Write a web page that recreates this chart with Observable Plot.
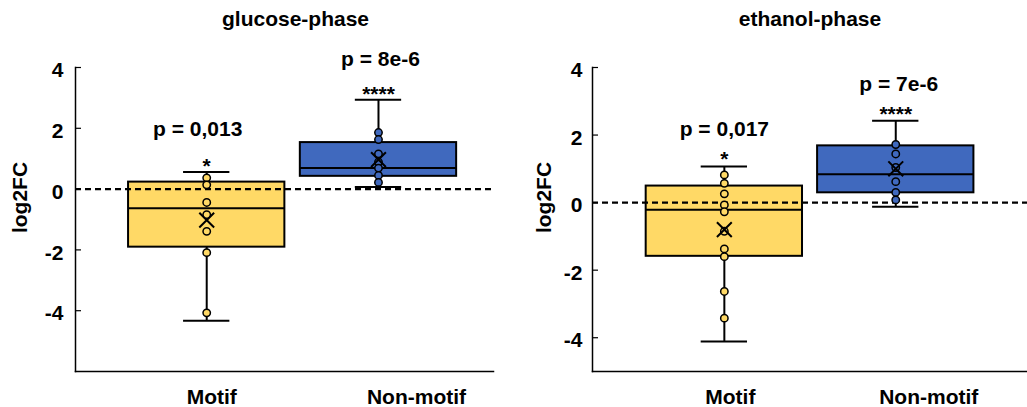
<!DOCTYPE html>
<html>
<head>
<meta charset="utf-8">
<script src="https://cdn.jsdelivr.net/npm/d3@7"></script>
<script src="https://cdn.jsdelivr.net/npm/@observablehq/plot@0.6"></script>
<style>
  html, body { margin: 0; padding: 0; background: #fff; }
  #chart { display: flex; flex-direction: row; width: 1027px; height: 407px; }
</style>
</head>
<body>
<div id="chart"></div>
<script>
// ---- data ----
const groups = ["Motif", "Non-motif"];
const titles = ["glucose-phase", "ethanol-phase"];
const yTicks = [-4, -2, 0, 2, 4];

// glucose-phase box statistics (Motif, Non-motif)
const glucoseQ1 = [-1.91, 0.42];
const glucoseMedian = [-0.63, 0.69];
const glucoseQ3 = [0.23, 1.53];
const glucoseWhiskerLow = [-4.33, 0.07];
const glucoseWhiskerHigh = [0.56, 2.94];
const glucoseMean = [-1.02, 0.97];
const glucosePointsMotif = [0.37, 0.14, -0.44, -0.84, -1.39, -2.09, -4.07];
const glucosePointsNonMotif = [1.86, 1.63, 1.16, 0.89, 0.69, 0.45, 0.22];
const glucoseP = ["p = 0,013", "p = 8e-6"];
const glucoseStars = ["*", "****"];

// ethanol-phase box statistics (Motif, Non-motif)
const ethanolQ1 = [-1.59, 0.29];
const ethanolMedian = [-0.21, 0.84];
const ethanolQ3 = [0.49, 1.68];
const ethanolWhiskerLow = [-4.11, -0.12];
const ethanolWhiskerHigh = [1.07, 2.42];
const ethanolMean = [-0.80, 1.0];
const ethanolPointsMotif = [0.82, 0.57, 0.26, -0.07, -0.27, -0.85, -1.37, -1.60, -2.63, -3.42];
const ethanolPointsNonMotif = [1.72, 1.44, 1.04, 0.62, 0.30, 0.08];
const ethanolP = ["p = 0,017", "p = 7e-6"];
const ethanolStars = ["*", "****"];

// ---- styles / layout ----
const FONT = "'Liberation Sans', Arial, Helvetica, sans-serif";
const YELLOW = "#FFD966";
const BLUE = "#4069BE";

function panel(cfg) {
  const rows = groups.map((g, i) => ({
    group: g, q1: cfg.q1[i], med: cfg.med[i], q3: cfg.q3[i],
    lo: cfg.lo[i], hi: cfg.hi[i], mean: cfg.mean[i], p: cfg.p[i], star: cfg.stars[i]
  }));
  const pts = [
    ...cfg.ptsMotif.map(v => ({group: groups[0], v})),
    ...cfg.ptsNon.map(v => ({group: groups[1], v}))
  ];
  const frameW = cfg.width - cfg.ml - cfg.mr;
  const txt = {fontSize: 21, fontWeight: "bold", fontFamily: FONT, fill: "black"};
  return Plot.plot({
    width: cfg.width,
    height: 407,
    marginLeft: cfg.ml,
    marginRight: cfg.mr,
    marginTop: 67,
    marginBottom: 36,
    style: {fontFamily: FONT, fontSize: "21px", fontWeight: "bold", color: "black", background: "white", overflow: "visible"},
    x: {type: "band", domain: groups, range: cfg.xRange, padding: cfg.pad, round: false, axis: null},
    y: {domain: cfg.yDomain, axis: null},
    color: {domain: groups, range: [YELLOW, BLUE]},
    marks: [
      Plot.ruleX(rows, {x: "group", y1: "lo", y2: "hi", stroke: "black", strokeWidth: 2}),
      Plot.barY(rows, {x: "group", y1: "q1", y2: "q3", fill: "group", stroke: "black", strokeWidth: 2}),
      Plot.tickY(rows, {x: "group", y: "med", stroke: "black", strokeWidth: 2}),
      Plot.tickY(rows, {x: "group", y: "lo", stroke: "black", strokeWidth: 2, insetLeft: 55, insetRight: 55}),
      Plot.tickY(rows, {x: "group", y: "hi", stroke: "black", strokeWidth: 2, insetLeft: 55, insetRight: 55}),
      Plot.ruleY([0], {stroke: "black", strokeWidth: 2.2, strokeDasharray: "6,4"}),
      Plot.dot(pts, {x: "group", y: "v", r: 3.7, fill: "group", stroke: "black", strokeWidth: 1.5}),
      Plot.dot(rows, {x: "group", y: "mean", symbol: "times", r: 6.8, stroke: "black", strokeWidth: 2}),
      // axes
      Plot.frame({anchor: "left", stroke: "black", strokeWidth: 1.5}),
      Plot.frame({anchor: "bottom", stroke: "black", strokeWidth: 1.5}),
      Plot.tickY(yTicks, {y: d => d, stroke: "black", strokeWidth: 1.2, insetRight: frameW - 6}),
      Plot.text(yTicks, {y: d => d, text: d => String(d), frameAnchor: "left", textAnchor: "end", dx: -cfg.tickGap, dy: 3, ...txt}),
      Plot.text(["log2FC"], {frameAnchor: "left", rotate: -90, dx: cfg.ylabDx, dy: -22, textAnchor: "middle", lineAnchor: "middle", ...txt}),
      // category labels
      Plot.text([groups[0]], {x: d => d, frameAnchor: "bottom", dy: 32, dx: cfg.labDx[0], lineAnchor: "bottom", ...txt}),
      Plot.text([groups[1]], {x: d => d, frameAnchor: "bottom", dy: 32, dx: cfg.labDx[1], lineAnchor: "bottom", ...txt}),
      // annotations
      Plot.text([rows[0]], {x: "group", y: "hi", text: "p", dy: cfg.pDy[0], dx: cfg.pDx[0], lineAnchor: "bottom", ...txt}),
      Plot.text([rows[1]], {x: "group", y: "hi", text: "p", dy: cfg.pDy[1], dx: cfg.pDx[1], lineAnchor: "bottom", ...txt}),
      Plot.text(rows, {x: "group", y: "hi", text: "star", dy: cfg.starDy, lineAnchor: "bottom", ...txt}),
      // title
      Plot.text([cfg.title], {frameAnchor: "top", dy: -42, dx: cfg.titleDx, lineAnchor: "bottom", ...txt})
    ]
  });
}

const left = panel({
  title: titles[0], width: 513, ml: 75, mr: 20,
  xRange: [112.6, 471.6], pad: 0.09, yDomain: [-6, 4],
  q1: glucoseQ1, med: glucoseMedian, q3: glucoseQ3, lo: glucoseWhiskerLow, hi: glucoseWhiskerHigh, mean: glucoseMean,
  ptsMotif: glucosePointsMotif, ptsNon: glucosePointsNonMotif, p: glucoseP, stars: glucoseStars,
  tickGap: 12, ylabDx: -55, labDx: [5, 38], pDx: [-9, 2], pDy: [-36, -34], starDy: 1, titleDx: 11
});
const right = panel({
  title: titles[1], width: 514, ml: 79, mr: 0,
  xRange: [117.6, 475.5], pad: 0.088, yDomain: [-5, 4],
  q1: ethanolQ1, med: ethanolMedian, q3: ethanolQ3, lo: ethanolWhiskerLow, hi: ethanolWhiskerHigh, mean: ethanolMean,
  ptsMotif: ethanolPointsMotif, ptsNon: ethanolPointsNonMotif, p: ethanolP, stars: ethanolStars,
  tickGap: 10, ylabDx: -48, labDx: [6, 33], pDx: [0, 3], pDy: [-30, -30], starDy: 0, titleDx: 0
});
document.getElementById("chart").append(left, right);
</script>
</body>
</html>
